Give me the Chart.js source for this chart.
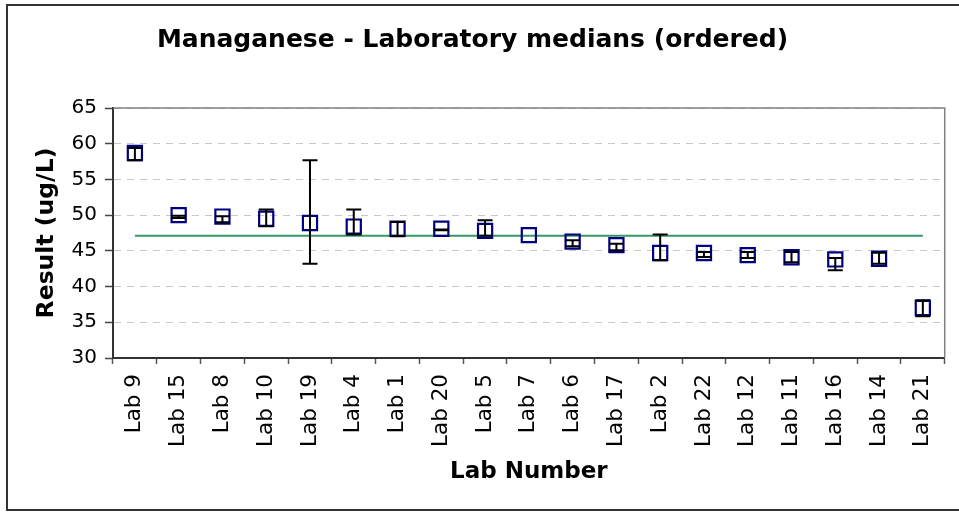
<!DOCTYPE html>
<html>
<head>
<meta charset="utf-8">
<script src="https://cdn.jsdelivr.net/npm/chart.js@4"></script>
<style>
  html, body { margin: 0; padding: 0; background: #fff; }
  #wrap { position: relative; width: 959px; height: 512px; }
</style>
</head>
<body>
<div id="wrap"><canvas id="medianChart"></canvas></div>
<script>
const labs = ['Lab 9', 'Lab 15', 'Lab 8', 'Lab 10', 'Lab 19', 'Lab 4', 'Lab 1', 'Lab 20', 'Lab 5', 'Lab 7',
  'Lab 6', 'Lab 17', 'Lab 2', 'Lab 22', 'Lab 12', 'Lab 11', 'Lab 16', 'Lab 14', 'Lab 21'];
const medians = [58.7, 50.0, 49.8, 49.5, 48.9, 48.4, 48.1, 48.1, 47.8, 47.2,
  46.3, 45.8, 44.7, 44.7, 44.4, 44.1, 43.8, 43.9, 37.0];
const lowValues = [57.7, 49.6, 49.0, 48.45, 43.2, 47.3, 47.05, 47.9, 47.1, 47.2,
  45.65, 45.1, 43.7, 44.15, 44.0, 43.4, 42.3, 43.2, 35.85];
const highValues = [59.4, 49.9, 49.85, 50.8, 57.7, 50.8, 49.05, 48.0, 49.3, 47.2,
  46.5, 46.0, 47.3, 44.85, 44.85, 44.85, 44.0, 44.75, 38.1];
const assignedValue = 47.1;
const yTicks = { min: 30, max: 65, step: 5 };

Chart.defaults.color = '#000';
Chart.defaults.font.family = '"DejaVu Sans", Verdana, sans-serif';

// outer frame + top/right edges of the plot area
const framePlugin = {
  id: 'frame',
  beforeDatasetsDraw(chart) {
    const { ctx, chartArea: a } = chart;
    ctx.save();
    ctx.strokeStyle = '#333';
    ctx.lineWidth = 2;
    ctx.beginPath();
    ctx.moveTo(1000, 5);
    ctx.lineTo(7, 5);
    ctx.lineTo(7, 510);
    ctx.lineTo(1000, 510);
    ctx.stroke();
    ctx.strokeStyle = '#808080';
    ctx.lineWidth = 1.5;
    ctx.beginPath();
    ctx.moveTo(a.left, a.top);
    ctx.lineTo(a.right, a.top);
    ctx.lineTo(a.right, a.bottom);
    ctx.stroke();
    ctx.restore();
  }
};

// low/high range bars on each median
const rangeBars = {
  id: 'rangeBars',
  afterDatasetsDraw(chart) {
    const { ctx, scales: { x, y } } = chart;
    ctx.save();
    ctx.strokeStyle = '#000';
    ctx.lineWidth = 2;
    labs.forEach((lab, i) => {
      if (highValues[i] - lowValues[i] < 0.05) return;
      const px = x.getPixelForValue(i);
      const yLo = y.getPixelForValue(lowValues[i]);
      const yHi = y.getPixelForValue(highValues[i]);
      ctx.beginPath();
      ctx.moveTo(px, yLo); ctx.lineTo(px, yHi);
      ctx.moveTo(px - 7.5, yLo); ctx.lineTo(px + 7.5, yLo);
      ctx.moveTo(px - 7.5, yHi); ctx.lineTo(px + 7.5, yHi);
      ctx.stroke();
    });
    ctx.restore();
  }
};

new Chart(document.getElementById('medianChart'), {
  type: 'line',
  data: {
    labels: labs,
    datasets: [
      {
        label: 'Median',
        data: medians,
        showLine: false,
        pointStyle: 'rect',
        pointRadius: 10,
        pointBorderWidth: 2.2,
        pointBorderColor: '#000080',
        pointBackgroundColor: 'rgba(0,0,0,0)',
        order: 1
      },
      {
        label: 'Assigned value',
        data: [{ x: labs[0], y: assignedValue }, { x: labs[labs.length - 1], y: assignedValue }],
        borderColor: '#339966',
        borderWidth: 2,
        pointRadius: 0,
        order: 2
      }
    ]
  },
  options: {
    responsive: true,
    maintainAspectRatio: false,
    animation: false,
    layout: { padding: { top: 0, right: 14, bottom: 0, left: 0 } },
    plugins: {
      legend: { display: false },
      tooltip: { enabled: false },
      title: {
        display: true,
        text: 'Managanese - Laboratory medians (ordered)',
        font: { size: 25, weight: 'bold' },
        padding: { top: 25, bottom: 53 }
      }
    },
    scales: {
      x: {
        offset: true,
        grid: { drawOnChartArea: false, offset: true, tickLength: 6, tickColor: '#555', tickWidth: 1.5 },
        border: { color: '#333', width: 2 },
        ticks: { autoSkip: false, minRotation: 90, maxRotation: 90, padding: 10, font: { size: 21.5 } },
        title: { display: true, text: 'Lab Number', font: { size: 23, weight: 'bold' }, padding: { bottom: 26 } },
        afterFit(scale) { scale.height = 154; }
      },
      y: {
        min: yTicks.min,
        max: yTicks.max,
        ticks: { stepSize: yTicks.step, padding: 8, font: { size: 20 } },
        grid: { color: '#c8c8c8', lineWidth: 1, tickLength: 8, tickColor: '#444', tickWidth: 1.5, tickBorderDash: [] },
        border: { color: '#333', width: 2, dash: [7, 6] },
        title: { display: true, text: 'Result (ug/L)', font: { size: 23.5, weight: 'bold' }, padding: { top: 33 } },
        afterFit(scale) { scale.width = 113; }
      }
    }
  },
  plugins: [framePlugin, rangeBars]
});
</script>
</body>
</html>
